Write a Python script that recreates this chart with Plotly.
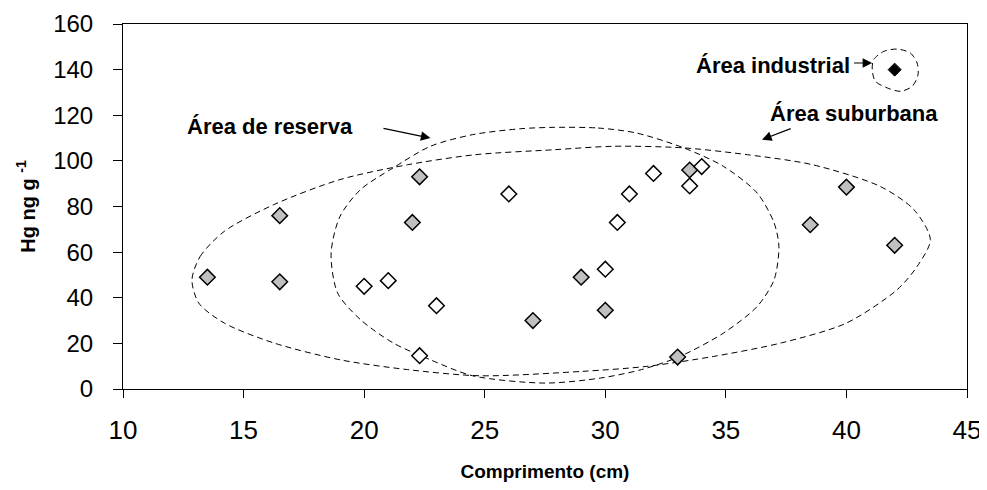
import plotly.graph_objects as go

# --- data ---
gray_x = [13.5, 16.5, 16.5, 22.3, 22.0, 27.0, 29.0, 30.0, 33.0, 33.5, 38.5, 40.0, 42.0]
gray_y = [49, 76, 47, 93, 73, 30, 49, 34.5, 14, 96, 72, 88.5, 63]

white_x = [20.0, 21.0, 23.0, 22.3, 26.0, 30.0, 30.5, 31.0, 32.0, 33.5, 34.0]
white_y = [45, 47.5, 36.5, 14.6, 85.5, 52.5, 73, 85.5, 94.5, 89, 97.5]

black_x = [42.0]
black_y = [140]

# outlines of the hand-drawn dashed regions (data coordinates)
reserva_x = [27.9, 29.7, 31.3, 33.25, 34.9, 36.3, 37.0, 37.2, 37.0, 36.3, 34.9, 33.1, 31.5, 29.8,
             27.5, 24.5, 22.75, 21.2, 19.85, 18.9, 18.63, 19.0, 19.85, 21.2, 22.75, 24.5, 26.5, 27.9]
reserva_y = [114.7, 114.4, 112.2, 105.7, 97.6, 85.9, 72.8, 62.5, 47.9, 36.2, 24.5, 14.3, 8.5, 4.8,
             2.6, 5.8, 12.8, 20.2, 30.4, 42.1, 59.6, 75.7, 87.4, 96.9, 106.4, 111.5, 114.1, 114.7]

suburb_x = [12.86, 13.2, 14.2, 16.25, 19.0, 21.8, 24.6, 27.9, 30.35, 33.25, 35.9, 38.6, 41.4, 42.8,
            43.48, 42.93, 42.1, 40.0, 37.3, 34.5, 31.7, 29.0, 24.8, 21.8, 19.0, 16.25, 14.2, 13.14, 12.86]
suburb_y = [47.9, 58.1, 69.1, 80.8, 91.8, 98.3, 102.7, 104.9, 106.4, 105.7, 102.7, 98.3, 88.8, 78.6,
            65.5, 53.7, 43.5, 28.9, 20.2, 14.3, 9.9, 7.7, 5.8, 8.5, 12.8, 20.2, 28.9, 37.7, 47.9]

indust_x = [42.10, 42.65, 42.93, 42.97, 42.73, 42.24, 41.69, 41.20, 41.07, 41.13, 41.55, 42.10]
indust_y = [149.0, 147.3, 142.9, 137.8, 132.7, 130.5, 132.0, 134.9, 140.0, 144.4, 148.0, 149.0]

x_ticks = [10, 15, 20, 25, 30, 35, 40, 45]
y_ticks = [0, 20, 40, 60, 80, 100, 120, 140, 160]

FONT = "Liberation Sans, Arial, sans-serif"

fig = go.Figure()

for ox, oy in [(suburb_x, suburb_y), (reserva_x, reserva_y), (indust_x, indust_y)]:
    fig.add_trace(go.Scatter(x=ox, y=oy, mode="lines",
                             line=dict(color="black", width=1, dash="6px,4px", shape="spline", smoothing=0.8),
                             hoverinfo="skip", showlegend=False))

fig.add_trace(go.Scatter(x=gray_x, y=gray_y, mode="markers",
                         marker=dict(symbol="diamond", size=12, color="#C0C0C0", line=dict(color="black", width=1.5)),
                         showlegend=False))
fig.add_trace(go.Scatter(x=white_x, y=white_y, mode="markers",
                         marker=dict(symbol="diamond", size=12, color="white", line=dict(color="black", width=1.5)),
                         showlegend=False))
fig.add_trace(go.Scatter(x=black_x, y=black_y, mode="markers",
                         marker=dict(symbol="diamond", size=10, color="black", line=dict(color="black", width=1)),
                         showlegend=False))

lab_font = dict(family=FONT, size=22, color="black")
annotations = [
    dict(x=19.6, y=115.0, text="<b>Área de reserva</b>", showarrow=False, xanchor="right", yanchor="middle", font=lab_font),
    dict(x=40.3, y=120.9, text="<b>Área suburbana</b>", showarrow=False, xanchor="center", yanchor="middle", font=lab_font),
    dict(x=40.25, y=142.0, text="<b>Área industrial</b>", showarrow=False, xanchor="right", yanchor="middle", font=lab_font),
    dict(x=22.75, y=110.0, ax=20.74, ay=114.4, axref="x", ayref="y", xref="x", yref="y", text="",
         showarrow=True, arrowhead=2, arrowsize=1.6, arrowwidth=1.2, arrowcolor="black"),
    dict(x=36.5, y=109.3, ax=37.75, ay=114.4, axref="x", ayref="y", xref="x", yref="y", text="",
         showarrow=True, arrowhead=2, arrowsize=1.6, arrowwidth=1.2, arrowcolor="black"),
    dict(x=41.07, y=142.9, ax=40.25, ay=142.9, axref="x", ayref="y", xref="x", yref="y", text="",
         showarrow=True, arrowhead=2, arrowsize=1.6, arrowwidth=1.2, arrowcolor="black"),
]

# the page body adds an 8px offset, so the figure is sized to fit the window
fig.update_layout(
    width=979, height=482,
    margin=dict(l=115, r=20, t=16, b=101),
    paper_bgcolor="white", plot_bgcolor="white",
    font=dict(family=FONT, color="black"),
    annotations=annotations,
    showlegend=False,
)

fig.update_xaxes(range=[10, 45], tickvals=x_ticks, ticktext=[str(v) for v in x_ticks], automargin=False,
                 showgrid=False, zeroline=False, showline=True, linecolor="black", linewidth=1, mirror=True,
                 ticks="outside", ticklen=8, tickcolor="black", tickwidth=1,
                 tickfont=dict(family=FONT, size=26, color="black"), ticklabelstandoff=10,
                 title=dict(text="<b>Comprimento (cm)</b>", font=dict(family=FONT, size=19, color="black"), standoff=20))
fig.update_yaxes(range=[0, 160], tickvals=y_ticks, ticktext=[str(v) for v in y_ticks], automargin=False,
                 showgrid=False, zeroline=False, showline=True, linecolor="black", linewidth=1, mirror=True,
                 ticks="outside", ticklen=9, tickcolor="black", tickwidth=1,
                 tickfont=dict(family=FONT, size=24, color="black"), ticklabelstandoff=15,
                 title=dict(text="<b>Hg ng g <sup>-1</sup></b>", font=dict(family=FONT, size=20, color="black"), standoff=12))

fig.write_html("out.html")
